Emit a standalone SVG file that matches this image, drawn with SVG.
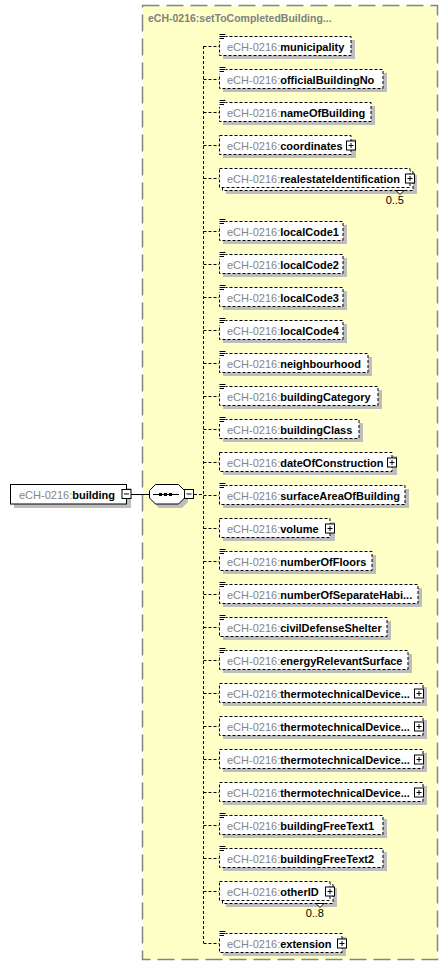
<svg xmlns="http://www.w3.org/2000/svg" xmlns:xlink="http://www.w3.org/1999/xlink" width="448" height="974" viewBox="0 0 448 974">
<style>
.bg{fill:#ffffc8;stroke:#848484;stroke-width:1.5;stroke-dasharray:17 7}
.ttl{font-family:"Liberation Sans",Arial,sans-serif;font-size:10.5px;font-weight:bold;fill:#808080}
.sh{fill:#bdbdbd}
.box{fill:#fff;stroke:#000;stroke-width:1;stroke-dasharray:3 2}
.sbox{fill:#fff;stroke:#000;stroke-width:1}
.t{font-family:"Liberation Sans",Arial,sans-serif;font-size:11px;fill:#000}
.p{fill:#858585}
.n{font-weight:bold}
.c{fill:none;stroke:#000;stroke-width:1;stroke-dasharray:3 2}
.cs{fill:none;stroke:#000;stroke-width:1}
.m{font-family:"Liberation Sans",Arial,sans-serif;font-size:11px;fill:#000;text-anchor:end}
</style>
<defs>
<g id="plus"><rect x="0.5" y="0.5" width="9" height="9" fill="#fff" stroke="#000"/><path d="M2.5 5H7.5M5 2.5V7.5" stroke="#000" fill="none"/></g>
<g id="minus"><rect x="0.5" y="0.5" width="9" height="9" fill="#fff" stroke="#000"/><path d="M2.5 5H7.5" stroke="#000" fill="none"/></g>
<g id="simp"><rect x="0" y="0" width="7" height="7" fill="#fff"/><path d="M0.5 0.5H6.5M0.5 2.5H6.5M0.5 4.5H5" stroke="#000" fill="none"/></g>
</defs>

<rect class="bg" x="142.5" y="5.5" width="295" height="954"/>
<text class="ttl" x="148" y="22">eCH-0216:setToCompletedBuilding...</text>

<g id="connectors">
<path class="cs" d="M131 494.5H149"/>
<path class="c" d="M194 494.5H203.5M203.5 46V943"/>
<path class="c" d="M203.5 46.5H219M203.5 79.5H219M203.5 112.5H219M203.5 145.5H219M203.5 178.5H219M203.5 231.5H219M203.5 264.5H219M203.5 297.5H219M203.5 330.5H219M203.5 363.5H219M203.5 396.5H219M203.5 429.5H219M203.5 462.5H219M203.5 495.5H219M203.5 528.5H219M203.5 561.5H219M203.5 594.5H219M203.5 627.5H219M203.5 660.5H219M203.5 693.5H219M203.5 726.5H219M203.5 759.5H219M203.5 792.5H219M203.5 825.5H219M203.5 858.5H219M203.5 891.5H219M203.5 943.5H219"/>
</g>

<g id="building">
<rect class="sh" x="14" y="488" width="117" height="20"/>
<rect class="sbox" x="10.5" y="484.5" width="116" height="19.5"/>
<text class="t" x="19" y="499"><tspan class="p">eCH-0216:</tspan><tspan class="n">building</tspan></text>
<use href="#minus" x="121.5" y="489"/>
</g>

<g id="sequence">
<polygon class="sh" points="159,488 182,488 188,494 188,502 182,508 159,508 153,502 153,494"/>
<polygon fill="#fff" stroke="#000" points="155.5,484.5 178.5,484.5 184.5,490.5 184.5,498 178.5,504 155.5,504 149.5,498 149.5,490.5"/>
<path d="M153 494.5H179" stroke="#000"/>
<rect x="159" y="493" width="3" height="3"/><rect x="164" y="493" width="3" height="3"/><rect x="169" y="493" width="3" height="3"/>
<use href="#minus" x="184" y="489"/>
</g>

<g id="municipality">
<rect class="sh" x="223" y="40" width="132" height="19"/>
<rect class="box" x="219.5" y="36.5" width="131.5" height="19"/>
<text class="t" x="227" y="51"><tspan class="p">eCH-0216:</tspan><tspan class="n">municipality</tspan></text>
<use href="#simp" x="219" y="34"/>
</g>
<g id="officialBuildingNo">
<rect class="sh" x="223" y="73" width="164" height="19"/>
<rect class="box" x="219.5" y="69.5" width="163.5" height="19"/>
<text class="t" x="227" y="84"><tspan class="p">eCH-0216:</tspan><tspan class="n">officialBuildingNo</tspan></text>
<use href="#simp" x="219" y="67"/>
</g>
<g id="nameOfBuilding">
<rect class="sh" x="223" y="106" width="152" height="19"/>
<rect class="box" x="219.5" y="102.5" width="151.5" height="19"/>
<text class="t" x="227" y="117"><tspan class="p">eCH-0216:</tspan><tspan class="n">nameOfBuilding</tspan></text>
<use href="#simp" x="219" y="100"/>
</g>
<g id="coordinates">
<rect class="sh" x="223" y="139" width="133" height="19"/>
<rect class="box" x="219.5" y="135.5" width="131.5" height="19"/>
<text class="t" x="227" y="150"><tspan class="p">eCH-0216:</tspan><tspan class="n">coordinates</tspan></text>
<use href="#plus" x="346" y="140.5"/>
</g>
<g id="realestateIdentification">
<rect class="sh" x="226" y="175" width="191" height="19"/>
<rect class="box" x="222.5" y="171.5" width="190.5" height="19"/>
<rect class="box" x="219.5" y="168.5" width="190.5" height="19"/>
<text class="t" x="227" y="183"><tspan class="p">eCH-0216:</tspan><tspan class="n">realestateIdentification</tspan></text>
<use href="#plus" x="405" y="173.5"/>
<polygon points="396,190.5 404,190.5 400,194.5" fill="#fff" stroke="#000"/>
<text class="m" x="404" y="204">0..5</text>
</g>
<g id="localCode1">
<rect class="sh" x="223" y="225" width="124" height="19"/>
<rect class="box" x="219.5" y="221.5" width="123.5" height="19"/>
<text class="t" x="227" y="236"><tspan class="p">eCH-0216:</tspan><tspan class="n">localCode1</tspan></text>
<use href="#simp" x="219" y="219"/>
</g>
<g id="localCode2">
<rect class="sh" x="223" y="258" width="124" height="19"/>
<rect class="box" x="219.5" y="254.5" width="123.5" height="19"/>
<text class="t" x="227" y="269"><tspan class="p">eCH-0216:</tspan><tspan class="n">localCode2</tspan></text>
<use href="#simp" x="219" y="252"/>
</g>
<g id="localCode3">
<rect class="sh" x="223" y="291" width="124" height="19"/>
<rect class="box" x="219.5" y="287.5" width="123.5" height="19"/>
<text class="t" x="227" y="302"><tspan class="p">eCH-0216:</tspan><tspan class="n">localCode3</tspan></text>
<use href="#simp" x="219" y="285"/>
</g>
<g id="localCode4">
<rect class="sh" x="223" y="324" width="124" height="19"/>
<rect class="box" x="219.5" y="320.5" width="123.5" height="19"/>
<text class="t" x="227" y="335"><tspan class="p">eCH-0216:</tspan><tspan class="n">localCode4</tspan></text>
<use href="#simp" x="219" y="318"/>
</g>
<g id="neighbourhood">
<rect class="sh" x="223" y="357" width="149" height="19"/>
<rect class="box" x="219.5" y="353.5" width="148.5" height="19"/>
<text class="t" x="227" y="368"><tspan class="p">eCH-0216:</tspan><tspan class="n">neighbourhood</tspan></text>
<use href="#simp" x="219" y="351"/>
</g>
<g id="buildingCategory">
<rect class="sh" x="223" y="390" width="159" height="19"/>
<rect class="box" x="219.5" y="386.5" width="158.5" height="19"/>
<text class="t" x="227" y="401"><tspan class="p">eCH-0216:</tspan><tspan class="n">buildingCategory</tspan></text>
<use href="#simp" x="219" y="384"/>
</g>
<g id="buildingClass">
<rect class="sh" x="223" y="423" width="140" height="19"/>
<rect class="box" x="219.5" y="419.5" width="139.5" height="19"/>
<text class="t" x="227" y="434"><tspan class="p">eCH-0216:</tspan><tspan class="n">buildingClass</tspan></text>
<use href="#simp" x="219" y="417"/>
</g>
<g id="dateOfConstruction">
<rect class="sh" x="223" y="456" width="174" height="19"/>
<rect class="box" x="219.5" y="452.5" width="172.5" height="19"/>
<text class="t" x="227" y="467"><tspan class="p">eCH-0216:</tspan><tspan class="n">dateOfConstruction</tspan></text>
<use href="#plus" x="387" y="457.5"/>
</g>
<g id="surfaceAreaOfBuilding">
<rect class="sh" x="223" y="489" width="186" height="19"/>
<rect class="box" x="219.5" y="485.5" width="185.5" height="19"/>
<text class="t" x="227" y="500"><tspan class="p">eCH-0216:</tspan><tspan class="n">surfaceAreaOfBuilding</tspan></text>
<use href="#simp" x="219" y="483"/>
</g>
<g id="volume">
<rect class="sh" x="223" y="522" width="112" height="19"/>
<rect class="box" x="219.5" y="518.5" width="110.5" height="19"/>
<text class="t" x="227" y="533"><tspan class="p">eCH-0216:</tspan><tspan class="n">volume</tspan></text>
<use href="#plus" x="325" y="523.5"/>
</g>
<g id="numberOfFloors">
<rect class="sh" x="223" y="555" width="153" height="19"/>
<rect class="box" x="219.5" y="551.5" width="152.5" height="19"/>
<text class="t" x="227" y="566"><tspan class="p">eCH-0216:</tspan><tspan class="n">numberOfFloors</tspan></text>
<use href="#simp" x="219" y="549"/>
</g>
<g id="numberOfSeparateHabitations">
<rect class="sh" x="223" y="588" width="199" height="19"/>
<rect class="box" x="219.5" y="584.5" width="198.5" height="19"/>
<text class="t" x="227" y="599"><tspan class="p">eCH-0216:</tspan><tspan class="n">numberOfSeparateHabi...</tspan></text>
<use href="#simp" x="219" y="582"/>
</g>
<g id="civilDefenseShelter">
<rect class="sh" x="223" y="621" width="168" height="19"/>
<rect class="box" x="219.5" y="617.5" width="167.5" height="19"/>
<text class="t" x="227" y="632"><tspan class="p">eCH-0216:</tspan><tspan class="n">civilDefenseShelter</tspan></text>
<use href="#simp" x="219" y="615"/>
</g>
<g id="energyRelevantSurface">
<rect class="sh" x="223" y="654" width="189" height="19"/>
<rect class="box" x="219.5" y="650.5" width="188.5" height="19"/>
<text class="t" x="227" y="665"><tspan class="p">eCH-0216:</tspan><tspan class="n">energyRelevantSurface</tspan></text>
<use href="#simp" x="219" y="648"/>
</g>
<g id="thermotechnicalDevice1">
<rect class="sh" x="223" y="687" width="204" height="19"/>
<rect class="box" x="219.5" y="683.5" width="203.5" height="19"/>
<text class="t" x="227" y="698"><tspan class="p">eCH-0216:</tspan><tspan class="n">thermotechnicalDevice...</tspan></text>
<use href="#plus" x="414" y="688.5"/>
</g>
<g id="thermotechnicalDevice2">
<rect class="sh" x="223" y="720" width="204" height="19"/>
<rect class="box" x="219.5" y="716.5" width="203.5" height="19"/>
<text class="t" x="227" y="731"><tspan class="p">eCH-0216:</tspan><tspan class="n">thermotechnicalDevice...</tspan></text>
<use href="#plus" x="414" y="721.5"/>
</g>
<g id="thermotechnicalDevice3">
<rect class="sh" x="223" y="753" width="204" height="19"/>
<rect class="box" x="219.5" y="749.5" width="203.5" height="19"/>
<text class="t" x="227" y="764"><tspan class="p">eCH-0216:</tspan><tspan class="n">thermotechnicalDevice...</tspan></text>
<use href="#plus" x="414" y="754.5"/>
</g>
<g id="thermotechnicalDevice4">
<rect class="sh" x="223" y="786" width="204" height="19"/>
<rect class="box" x="219.5" y="782.5" width="203.5" height="19"/>
<text class="t" x="227" y="797"><tspan class="p">eCH-0216:</tspan><tspan class="n">thermotechnicalDevice...</tspan></text>
<use href="#plus" x="414" y="787.5"/>
</g>
<g id="buildingFreeText1">
<rect class="sh" x="223" y="819" width="164" height="19"/>
<rect class="box" x="219.5" y="815.5" width="163.5" height="19"/>
<text class="t" x="227" y="830"><tspan class="p">eCH-0216:</tspan><tspan class="n">buildingFreeText1</tspan></text>
<use href="#simp" x="219" y="813"/>
</g>
<g id="buildingFreeText2">
<rect class="sh" x="223" y="852" width="164" height="19"/>
<rect class="box" x="219.5" y="848.5" width="163.5" height="19"/>
<text class="t" x="227" y="863"><tspan class="p">eCH-0216:</tspan><tspan class="n">buildingFreeText2</tspan></text>
<use href="#simp" x="219" y="846"/>
</g>
<g id="otherID">
<rect class="sh" x="226" y="888" width="111" height="19"/>
<rect class="box" x="222.5" y="884.5" width="110.5" height="19"/>
<rect class="box" x="219.5" y="881.5" width="110.5" height="19"/>
<text class="t" x="227" y="896"><tspan class="p">eCH-0216:</tspan><tspan class="n">otherID</tspan></text>
<use href="#plus" x="325" y="886.5"/>
<polygon points="316,903.5 324,903.5 320,907.5" fill="#fff" stroke="#000"/>
<text class="m" x="324" y="917">0..8</text>
</g>
<g id="extension">
<rect class="sh" x="223" y="937" width="123" height="19"/>
<rect class="box" x="219.5" y="933.5" width="122.5" height="19"/>
<text class="t" x="227" y="948"><tspan class="p">eCH-0216:</tspan><tspan class="n">extension</tspan></text>
<use href="#simp" x="219" y="931"/>
<use href="#plus" x="337" y="938.5"/>
</g>
</svg>
